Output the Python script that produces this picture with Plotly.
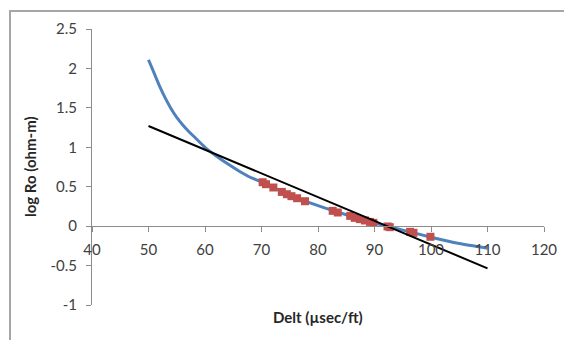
import plotly.graph_objects as go

# Blue model curve
curve_delt = [50, 51, 52, 53, 54, 55, 56, 57, 58, 60, 62, 64, 66, 68, 70, 75, 80, 85, 90, 95, 100, 105, 110]
curve_logro = [2.11, 1.94, 1.77, 1.62, 1.49, 1.38, 1.29, 1.21, 1.14, 1.00, 0.89, 0.79, 0.70, 0.62, 0.56,
               0.39, 0.26, 0.145, 0.04, -0.05, -0.14, -0.22, -0.28]

# Red data points
pts_delt = [70.2, 70.8, 72.1, 73.6, 74.5, 75.3, 76.3, 77.7, 82.6, 83.5, 85.7, 86.5, 87.4, 88.3,
            89.2, 89.8, 92.3, 92.7, 96.3, 96.9, 99.9]
pts_logro = [0.557, 0.532, 0.49, 0.434, 0.405, 0.380, 0.354, 0.316, 0.194, 0.173, 0.130, 0.105,
             0.089, 0.072, 0.054, 0.042, -0.004, -0.013, -0.072, -0.085, -0.135]

# Black trend line
line_delt = [50, 110]
line_logro = [1.27, -0.535]

x_ticks = [40, 50, 60, 70, 80, 90, 100, 110, 120]
y_ticks = [-1, -0.5, 0, 0.5, 1, 1.5, 2, 2.5]
y_ticktext = ["-1", "-0.5", "0", "0.5", "1", "1.5", "2", "2.5"]

FONT = "Lato, 'Open Sans', sans-serif"
TXT = "#404040"
AX = "#8c8c8c"

fig = go.Figure()
fig.add_trace(go.Scatter(x=curve_delt, y=curve_logro, mode="lines",
                         line=dict(color="#4F81BD", width=3, shape="spline", smoothing=0.6),
                         showlegend=False, hoverinfo="skip"))
fig.add_trace(go.Scatter(x=pts_delt, y=pts_logro, mode="markers",
                         marker=dict(symbol="square", size=8, color="#C0504D"),
                         showlegend=False))
fig.add_trace(go.Scatter(x=line_delt, y=line_logro, mode="lines",
                         line=dict(color="black", width=2), showlegend=False))

W, H = 564, 340
L, R, T, B = 92, 20, 29, 35
pw, ph = W - L - R, H - T - B

def px(xp):
    return (xp - L) / pw

def py(yp):
    return (H - B - yp) / ph

fig.update_layout(
    template="none",
    width=W, height=H,
    margin=dict(l=L, r=R, t=T, b=B, pad=0),
    paper_bgcolor="white", plot_bgcolor="white",
    font=dict(family=FONT, size=13, color=TXT),
    xaxis=dict(range=[40, 120], tickvals=x_ticks, showgrid=False, zeroline=False,
               automargin=False,
               showline=True, linecolor=AX, linewidth=1,
               ticks="outside", ticklen=5, tickcolor=AX,
               anchor="free", position=1 / 3.5,
               ticklabelstandoff=5,
               tickfont=dict(family=FONT, size=15, color=TXT)),
    yaxis=dict(range=[-1, 2.5], tickvals=y_ticks, ticktext=y_ticktext,
               showgrid=False, zeroline=False, automargin=False,
               showline=True, linecolor=AX, linewidth=1,
               ticks="outside", ticklen=5, tickcolor=AX,
               ticklabelstandoff=6,
               tickfont=dict(family=FONT, size=15, color=TXT)),
    annotations=[
        dict(text="<b>Delt (µsec/ft)</b>", xref="paper", yref="paper",
             x=px(318), y=py(317), xanchor="center", yanchor="middle",
             showarrow=False, font=dict(family=FONT, size=15, color="#262626")),
        dict(text="<b>log Ro (ohm-m)</b>", xref="paper", yref="paper",
             x=px(30), y=py(167), xanchor="center", yanchor="middle", textangle=-90,
             showarrow=False, font=dict(family=FONT, size=15, color="#262626")),
    ],
    shapes=[
        dict(type="rect", xref="paper", yref="paper",
             x0=px(10), x1=px(566), y0=py(360), y1=py(11),
             line=dict(color="#a6a6a6", width=2), layer="above"),
    ],
)

fig.write_html("out.html", config={"displayModeBar": False},
               post_script="document.body.style.margin='0';document.body.style.overflow='hidden';")
